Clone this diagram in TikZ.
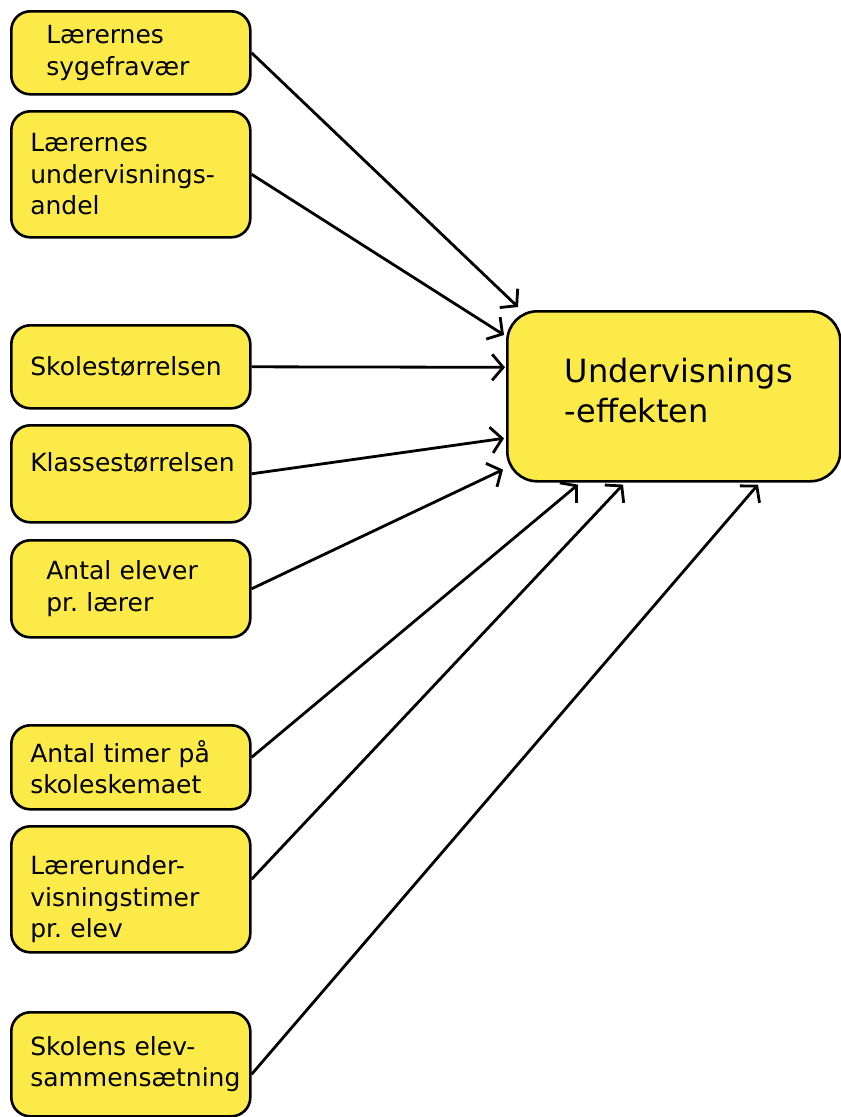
\documentclass[tikz,border=0pt]{standalone}
\usepackage{fontspec}
\setmainfont{DejaVu Sans}
\usetikzlibrary{arrows.meta}

\definecolor{boxyellow}{RGB}{251,234,72}

\tikzset{
  cause/.style={draw, line width=2.6pt, rounded corners=19pt, fill=boxyellow,
    anchor=north west, minimum width=239pt, text width=201pt, inner xsep=19pt,
    align=left, font=\fontsize{25}{31.5}\selectfont},
  indented/.style={text width=169pt, inner xsep=35pt},
  effect/.style={draw, line width=2.6pt, rounded corners=30pt, fill=boxyellow,
    anchor=north west, minimum width=333pt, minimum height=170pt,
    align=left, font=\fontsize{32}{40}\selectfont},
  link/.style={line width=2.8pt, -{Straight Barb[length=11pt,width=26pt]}}
}

\begin{document}
\begin{tikzpicture}[x=1pt, y=-1pt]

  \useasboundingbox (0,0) rectangle (841,1117);

  % the causes on the left
  \node[cause, indented, minimum height=83pt] (lsyg) at (10,10) {Lærernes\\sygefravær};
  \node[cause, minimum height=126pt] (lund) at (10,110) {Lærernes\\undervisnings-\\andel};
  \node[cause, minimum height=83pt] (skst) at (10,324) {Skolestørrelsen};
  \node[cause, minimum height=97pt, text depth=24pt] (klst) at (10,424) {Klassestørrelsen};
  \node[cause, indented, minimum height=97pt] (elev) at (10,539) {Antal elever\\pr.\ lærer};
  \node[cause, minimum height=84pt] (timer) at (10,724) {Antal timer på\\skoleskemaet};
  \node[cause, minimum height=126pt, text height=39pt] (lutim) at (10,825) {Lærerunder-\\visningstimer\\pr.\ elev};
  \node[cause, minimum height=104pt] (sammen) at (10,1011) {Skolens elev-\\sammensætning};

  % the effect
  \node[effect] (eff) at (506,310) {\hspace*{10pt}Undervisnings\\\hspace*{10pt}-effekten\\[-28pt]};

  \draw[link] (lsyg.east) -- ([xshift=12pt,yshift=3pt]eff.north west);
  \draw[link] (lund.east) -- ([xshift=-2pt,yshift=-25pt]eff.north west);
  \draw[link] (skst.east) -- ([xshift=-1pt,yshift=29pt]eff.west);
  \draw[link] (klst.east) -- ([xshift=-2pt,yshift=-42pt]eff.west);
  \draw[link] (elev.east) -- ([xshift=-3pt,yshift=13pt]eff.south west);
  \draw[link] ([yshift=10pt]timer.east) -- ([xshift=72pt,yshift=-2pt]eff.south west);
  \draw[link] ([yshift=10pt]lutim.east) -- ([xshift=117pt,yshift=-2pt]eff.south west);
  \draw[link] ([yshift=-10pt]sammen.east) -- ([xshift=252pt,yshift=-2pt]eff.south west);

\end{tikzpicture}
\end{document}
